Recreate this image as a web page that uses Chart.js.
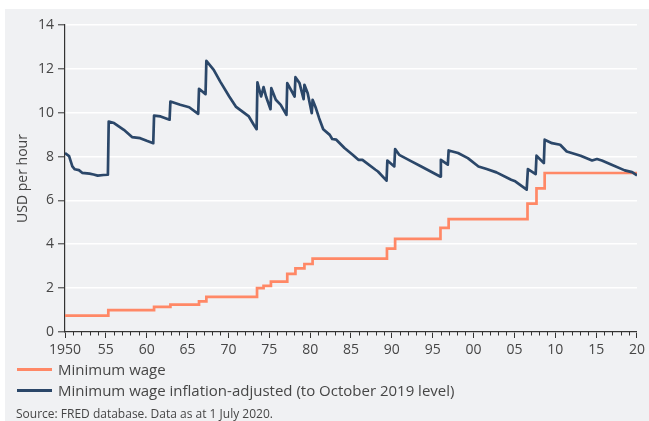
<!DOCTYPE html>
<html>
<head>
<meta charset="utf-8">
<script src="https://cdn.jsdelivr.net/npm/chart.js@4"></script>
<style>
  html, body { margin: 0; padding: 0; background: #fff; }
  body { width: 649px; height: 421px; position: relative; overflow: hidden; font-family: 'Open Sans', sans-serif; color: #464646; }
  .panel { position: absolute; left: 5px; top: 9px; right: 0; bottom: 0; background: #f0f1f3; }
  #chart-wrap { position: absolute; left: 0; top: 0; width: 649px; height: 421px; }
  .legend-item { position: absolute; left: 17px; display: flex; align-items: center; font-size: 15px; white-space: nowrap; }
  .legend-line { width: 35px; height: 3px; margin-right: 6px; }
  .source { position: absolute; left: 16px; top: 405px; font-size: 12px; white-space: nowrap; }
</style>
</head>
<body>
<div class="panel"></div>
<div id="chart-wrap"><canvas id="wage-chart" width="649" height="421"></canvas></div>
<div class="legend-item" style="top:359px;"><span class="legend-line" style="background:#ff8866;"></span>Minimum wage</div>
<div class="legend-item" style="top:380px;"><span class="legend-line" style="background:#2b4769;"></span>Minimum wage inflation-adjusted (to October 2019 level)</div>
<div class="source">Source: FRED database. Data as at 1 July 2020.</div>

<script>
// ── DATA ─────────────────────────────────────────────────────

// nominal federal minimum wage, step dates as placed on the chart
const wageYears  = [1950, 1955.3, 1960.9, 1962.9, 1966.4, 1967.3, 1973.5, 1974.3, 1975.2, 1977.2, 1978.2, 1979.3, 1980.3, 1989.4, 1990.4, 1995.95, 1996.95, 2006.6, 2007.7, 2008.7, 2020.4];
const wageValues = [0.75, 1.00, 1.15, 1.25, 1.40, 1.60, 2.00, 2.10, 2.30, 2.65, 2.90, 3.10, 3.35, 3.80, 4.25, 4.75, 5.15, 5.85, 6.55, 7.25, 7.25];

// inflation-adjusted (Oct 2019 USD)
const realYears = [
  1950.0, 1950.5, 1950.9, 1951.2, 1951.7, 1952.1, 1953.0, 1953.5, 1954.0, 1954.7, 1955.25,
  1955.35, 1956.0, 1957.2, 1958.2, 1959.2, 1960.0, 1960.8,
  1960.9, 1961.7, 1962.8,
  1962.9, 1964.1, 1965.2, 1966.3,
  1966.4, 1967.2,
  1967.3, 1968.2, 1969.0, 1970.1, 1970.9, 1972.5, 1973.1, 1973.45,
  1973.55, 1974.0, 1974.3, 1974.6, 1975.15, 1975.25, 1975.8, 1976.4, 1977.1,
  1977.2, 1978.1, 1978.2, 1978.7, 1979.2, 1979.3, 1979.7, 1980.2, 1980.3, 1980.7,
  1981.1, 1981.6, 1982.4, 1982.7, 1983.2, 1984.2, 1985.2, 1985.9, 1986.4, 1988.0, 1988.3, 1989.35,
  1989.45, 1990.3,
  1990.4, 1990.9, 1992.4, 1993.6, 1995.9,
  1996.0, 1996.85,
  1996.95, 1998.1, 1999.3, 2000.6, 2001.6, 2002.8, 2004.6, 2005.1, 2006.5,
  2006.65, 2007.6,
  2007.7, 2008.6,
  2008.7, 2009.6, 2010.6, 2011.4, 2013.1, 2014.5, 2015.1, 2015.7, 2016.9, 2018.5, 2019.4, 2020.0, 2020.4
];
const realValues = [
  8.16, 8.02, 7.55, 7.42, 7.38, 7.26, 7.22, 7.18, 7.13, 7.16, 7.17,
  9.60, 9.53, 9.22, 8.89, 8.84, 8.72, 8.61,
  9.87, 9.83, 9.68,
  10.51, 10.36, 10.25, 9.95,
  11.09, 10.85,
  12.36, 11.95, 11.42, 10.74, 10.28, 9.83, 9.45, 9.25,
  11.39, 10.74, 11.17, 10.74, 10.16, 11.12, 10.59, 10.36, 9.90,
  11.35, 10.74, 11.62, 11.35, 10.62, 11.27, 10.89, 9.98, 10.59, 10.21,
  9.75, 9.25, 8.99, 8.80, 8.77, 8.39, 8.08, 7.85, 7.85, 7.40, 7.32, 6.90,
  7.82, 7.55,
  8.34, 8.08, 7.78, 7.55, 7.09,
  7.85, 7.63,
  8.28, 8.16, 7.93, 7.55, 7.43, 7.28, 6.94, 6.87, 6.49,
  7.43, 7.20,
  8.04, 7.70,
  8.77, 8.61, 8.54, 8.23, 8.04, 7.82, 7.89, 7.82, 7.63, 7.37, 7.29, 7.14, 7.25
];

const yTicks = [0, 2, 4, 6, 8, 10, 12, 14];
const xLabelYears = [1950, 1955, 1960, 1965, 1970, 1975, 1980, 1985, 1990, 1995, 2000, 2005, 2010, 2015, 2020];

// ── CHART ────────────────────────────────────────────────────

const AXIS = '#333333';
const TEXT = '#464646';
const FONT = { family: 'Open Sans', size: 14 };

const toXY = (xs, ys) => xs.map((x, i) => ({ x, y: ys[i] }));

// yearly minor ticks under the x axis
const minorTicks = {
  id: 'minorTicks',
  afterDraw(chart) {
    const { ctx, scales: { x } } = chart;
    const y0 = x.top;
    ctx.save();
    ctx.strokeStyle = AXIS;
    ctx.lineWidth = 1;
    for (let yr = 1950; yr <= 2020; yr++) {
      if (yr % 5 === 0) continue;
      const px = Math.round(x.getPixelForValue(yr)) + 0.5;
      ctx.beginPath();
      ctx.moveTo(px, y0);
      ctx.lineTo(px, y0 + 3.5);
      ctx.stroke();
    }
    ctx.restore();
  }
};

new Chart(document.getElementById('wage-chart'), {
  type: 'line',
  data: {
    datasets: [
      {
        label: 'Minimum wage inflation-adjusted (to October 2019 level)',
        data: toXY(realYears, realValues),
        borderColor: '#2b4769',
        borderWidth: 2.7,
        pointRadius: 0,
        tension: 0,
        borderJoinStyle: 'round',
      },
      {
        label: 'Minimum wage',
        data: toXY(wageYears, wageValues),
        borderColor: '#ff8866',
        borderWidth: 2.7,
        pointRadius: 0,
        stepped: true,
      },
    ],
  },
  options: {
    responsive: false,
    animation: false,
    layout: { padding: { left: 0, right: 12, top: 25, bottom: 59 } },
    plugins: { legend: { display: false }, tooltip: { enabled: false } },
    scales: {
      x: {
        type: 'linear',
        min: 1950,
        max: 2020,
        afterBuildTicks: (s) => { s.ticks = xLabelYears.map(v => ({ value: v })); },
        afterFit: (s) => { s.height = 30; },
        grid: { drawOnChartArea: false, drawTicks: true, tickLength: 6, tickColor: AXIS, tickWidth: 1 },
        border: { display: true, color: AXIS, width: 1.2 },
        ticks: {
          color: TEXT,
          font: FONT,
          padding: 4,
          maxRotation: 0,
          autoSkip: false,
          callback: (v) => v === 1950 ? '1950' : String(v % 100).padStart(2, '0'),
        },
      },
      y: {
        min: 0,
        max: 14,
        afterBuildTicks: (s) => { s.ticks = yTicks.map(v => ({ value: v })); },
        afterFit: (s) => { s.width = 65; },
        grid: { color: '#ffffff', lineWidth: 1.6, drawTicks: true, tickLength: 7, tickColor: AXIS, tickWidth: 1 },
        border: { display: true, color: AXIS, width: 1.2 },
        ticks: { color: TEXT, font: FONT, padding: 4 },
        title: { display: true, text: 'USD per hour', color: TEXT, font: { family: 'Open Sans', size: 14 }, padding: { top: 15, bottom: 0 } },
      },
    },
  },
  plugins: [minorTicks],
});
</script>
</body>
</html>
